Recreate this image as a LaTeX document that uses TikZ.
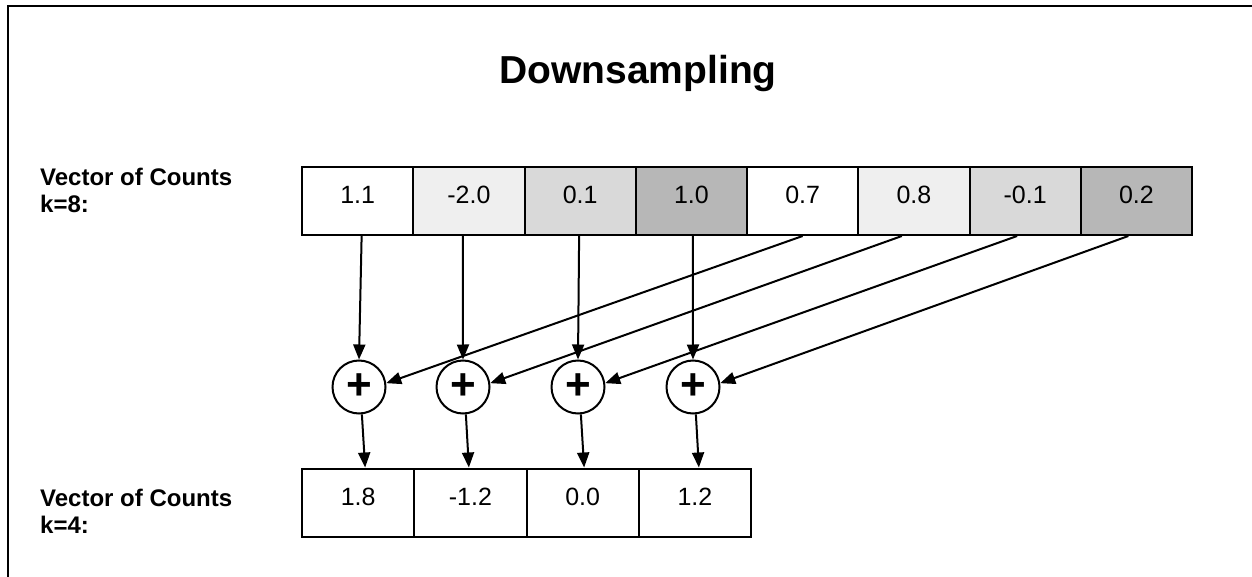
\documentclass[tikz,border=0pt]{standalone}
\usepackage{fontspec}
\setmainfont{Liberation Sans}
\usetikzlibrary{arrows.meta,calc}
\definecolor{gA}{HTML}{EFEFEF}
\definecolor{gB}{HTML}{D9D9D9}
\definecolor{gC}{HTML}{B7B7B7}
\begin{document}
\begin{tikzpicture}[x=1pt,y=-1pt,
  cellbox/.style={draw=black, line width=2pt, minimum height=68pt, inner sep=0pt,
    font=\fontsize{25}{25}\selectfont, text height=18pt, text depth=13pt},
  topcell/.style={cellbox, minimum width=111.25pt},
  botcell/.style={cellbox, minimum width=112.25pt},
  adder/.style={circle, draw=black, line width=2pt, minimum size=53pt, inner sep=0pt,
    fill=white, font=\fontsize{44}{44}\selectfont\bfseries},
  arr/.style={-{Triangle[length=15pt,width=12pt]}, line width=2pt},
  lab/.style={font=\fontsize{24}{27}\selectfont\bfseries, align=left, inner sep=0pt}]
\useasboundingbox (0,0) rectangle (1252,577);
\draw[line width=2.7pt] (8,577) -- (8,6) -- (1252,6);
\node[font=\fontsize{39}{39}\selectfont\bfseries, anchor=base, inner sep=0pt] (title) at (638,84) {Downsampling};
\node[lab, anchor=base west] (lk8) at (40,213) {Vector of Counts\\k=8:};
\node[lab, anchor=base west] (lk4) at (40,533) {Vector of Counts\\k=4:};
\foreach \v/\f [count=\i] in {1.1/white,-2.0/gA,0.1/gB,1.0/gC,0.7/white,0.8/gA,-0.1/gB,0.2/gC}
  \node[topcell, fill=\f] (t\i) at ({302+111.25*(\i-0.5)},201) {\v};
\foreach \v [count=\i] in {1.8,-1.2,0.0,1.2}
  \node[botcell, fill=white] (b\i) at ({302+112.25*(\i-0.5)},502.5) {\v};
\foreach \x [count=\i] in {359,463,578,693}
  \node[adder] (p\i) at (\x,387) {+};
% straight-down inputs
\draw[arr] ($(t1.south)+(4,0)$) -- (p1.north);
\draw[arr] ($(t2.south)+(-6,0)$) -- (p2.north);
\draw[arr] ($(t3.south)+(-1,0)$) -- (p3.north);
\draw[arr] ($(t4.south)+(1.5,0)$) -- (p4.north);
% diagonal inputs
\draw[arr] ($(t5.south)+(0,0)$) -- (p1.8);
\draw[arr] ($(t6.south)+(-12,0)$) -- (p2.8);
\draw[arr] ($(t7.south)+(-8,0)$) -- (p3.8);
\draw[arr] ($(t8.south)+(-8,0)$) -- (p4.8);
% outputs
\draw[arr] (p1.-84) -- ($(b1.north)+(7,0)$);
\draw[arr] (p2.-84) -- ($(b2.north)+(-1.5,0)$);
\draw[arr] (p3.-84) -- ($(b3.north)+(1.5,0)$);
\draw[arr] (p4.-84) -- ($(b4.north)+(4,0)$);
\end{tikzpicture}
\end{document}
